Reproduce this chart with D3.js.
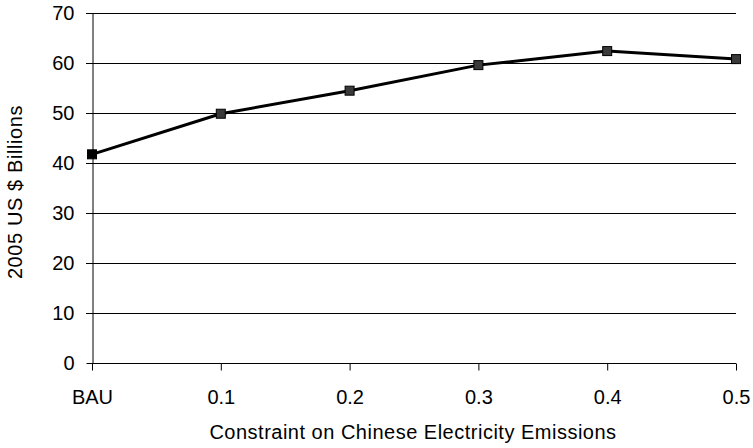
<!DOCTYPE html>
<html><head><meta charset="utf-8">
<script src="https://cdn.jsdelivr.net/npm/d3@7"></script>
<style>body{margin:0;background:#fff}svg{display:block;font-family:"Liberation Sans",Arial,sans-serif}</style>
</head><body><svg id="c" width="753" height="448"></svg>
<script>
const categories = ["BAU","0.1","0.2","0.3","0.4","0.5"];
const values = [41.7, 49.8, 54.4, 59.5, 62.3, 60.7];
const yTicks = [0,10,20,30,40,50,60,70];

const FS = 20;
const svg = d3.select("#c");
const x = d3.scalePoint().domain(categories).range([92,736]).padding(0);
const y = d3.scaleLinear().domain([0,70]).range([363.3,12.5]);

// gridlines
svg.append("g").selectAll("line").data(yTicks.filter(d=>d>0)).join("line")
  .attr("x1",86).attr("x2",736).attr("y1",d=>Math.round(y(d))+0.5).attr("y2",d=>Math.round(y(d))+0.5)
  .attr("stroke","#000").attr("stroke-width",1);

// y axis
const ya = svg.append("g").attr("transform","translate(92.5,0)")
  .call(d3.axisLeft(y).tickValues(yTicks).tickSize(6).tickPadding(12).tickSizeOuter(0));
ya.select(".domain").attr("stroke","#000");
ya.selectAll("line").attr("stroke","#000");
ya.selectAll("text").attr("font-size",FS).attr("fill","#000").attr("font-family","Liberation Sans, Arial, sans-serif");
ya.selectAll(".tick").attr("transform",d=>`translate(0,${Math.round(y(d))+0.5})`);

// x axis
const xa = svg.append("g").attr("transform",`translate(0,${Math.round(y(0))+0.5})`)
  .call(d3.axisBottom(x).tickSize(7).tickPadding(19.5).tickSizeOuter(0));
xa.select(".domain").attr("stroke","#000").attr("d","M92,0H736");
xa.selectAll("line").attr("stroke","#000");
xa.selectAll("text").attr("font-size",FS).attr("fill","#000").attr("font-family","Liberation Sans, Arial, sans-serif");

// line
svg.append("path").datum(values)
  .attr("d", d3.line().x((d,i)=>x(categories[i])).y(d=>y(d)))
  .attr("fill","none").attr("stroke","#000").attr("stroke-width",3).attr("stroke-linejoin","round");

// markers
svg.append("g").selectAll("rect").data(values).join("rect")
  .attr("x",(d,i)=>x(categories[i])-4.5).attr("y",d=>y(d)-4.5)
  .attr("width",9).attr("height",9)
  .attr("fill",(d,i)=>i===0?"#000":"#3a3a3a").attr("stroke","#000").attr("stroke-width",1);

// titles
svg.append("text").attr("x",413).attr("y",439).attr("text-anchor","middle")
  .attr("font-size",FS).attr("letter-spacing",0.5).text("Constraint on Chinese Electricity Emissions");
svg.append("text").attr("transform","translate(22,192) rotate(-90)").attr("text-anchor","middle")
  .attr("font-size",FS).attr("letter-spacing",0.6).text("2005 US $ Billions");
</script></body></html>
